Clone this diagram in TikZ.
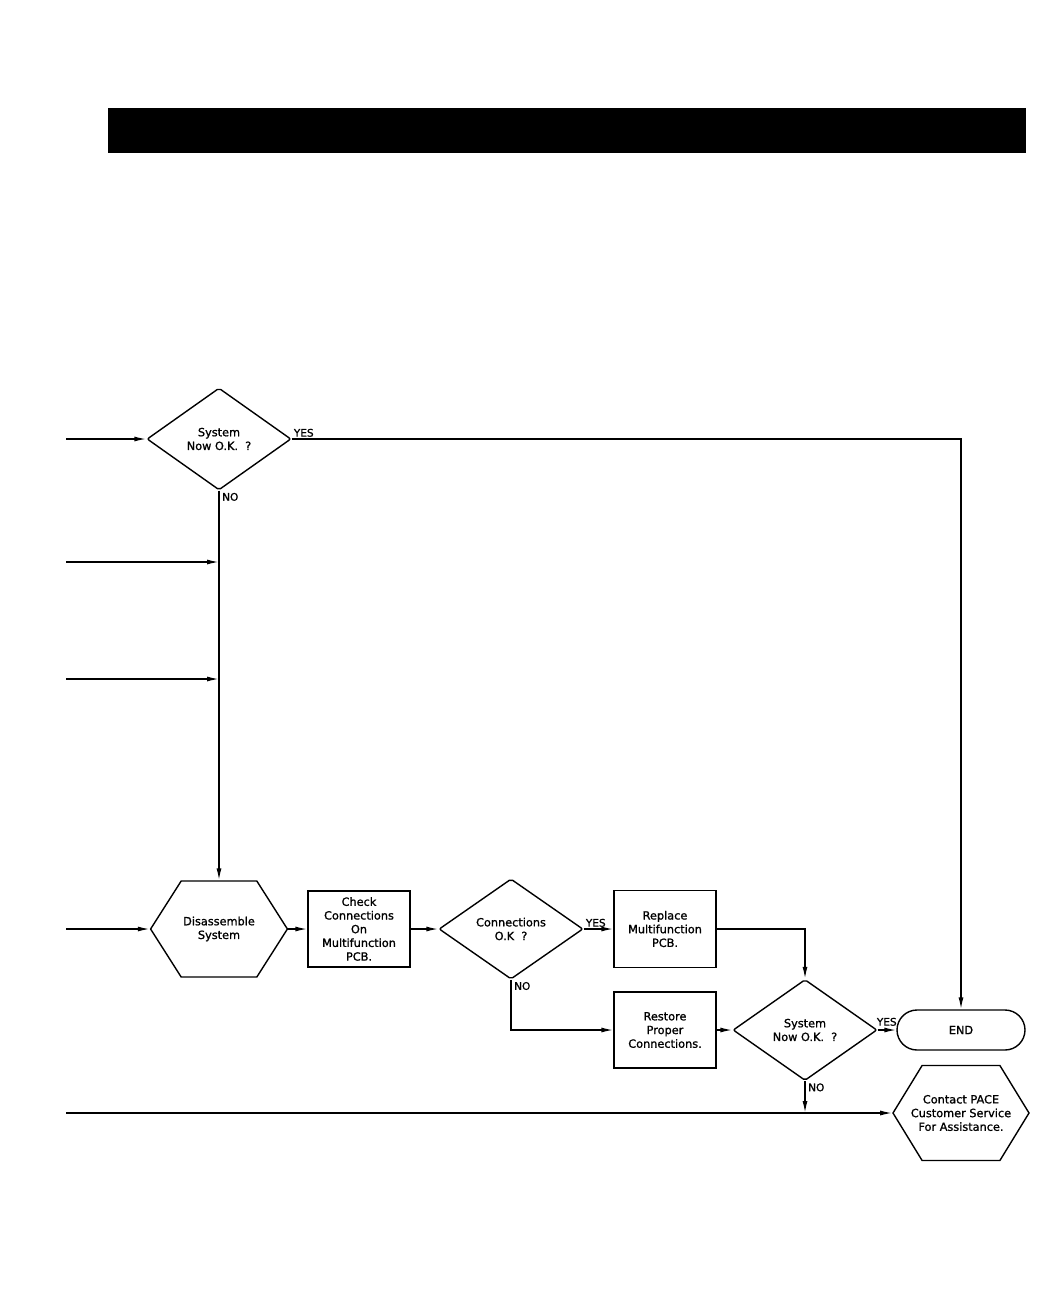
\documentclass[tikz,border=0pt]{standalone}
\usepackage{fontspec}
\setmainfont{DejaVu Sans}[RawFeature={embolden=1.2}]
\usepackage{tikz}
\usetikzlibrary{positioning,arrows.meta,calc,shapes.geometric,shapes.symbols}
\tikzset{
  base/.style={draw,line width=1.4pt,align=center,font=\fontsize{11.3}{13.7}\selectfont,inner sep=2pt},
  dec/.style={base,diamond,minimum width=144pt,minimum height=102pt,rounded corners=2pt},
  proc/.style={base,rectangle,minimum width=102pt,minimum height=76pt},
  hexa/.style={base,signal,signal to=east and west,signal pointer angle=115,minimum width=136pt,minimum height=96pt},
  term/.style={base,rectangle,rounded corners=20pt,minimum width=128pt,minimum height=40pt},
  arr/.style={-{Latex[length=12pt,width=5pt]},line width=1.4pt},
  lbl/.style={font=\fontsize{10.5}{12}\selectfont,inner sep=1pt}}
\begin{document}
\begin{tikzpicture}[x=1pt,y=-1pt]
\useasboundingbox (0,0) rectangle (1062,1296);
% heading bar
\fill (108,108) rectangle (1026,153);
% nodes
\node[dec] (sysA) at (219,439) {System\\Now O.K.~~?};
\node[hexa] (disas) at (219,929) {Disassemble\\System};
\node[proc] (check) at (359,929) {Check\\Connections\\On\\Multifunction\\PCB.};
\node[dec,minimum height=100pt] (conn) at (511,929) {Connections\\O.K~~?};
\node[proc,minimum height=77pt] (repl) at (665,929) {Replace\\Multifunction\\PCB.};
\node[proc] (rest) at (665,1030) {Restore\\Proper\\Connections.};
\node[dec,minimum height=101pt] (sysB) at (805,1030) {System\\Now O.K.~~?};
\node[term] (end) at (961,1030) {END};
\node[hexa,minimum height=95pt,signal pointer angle=117,inner xsep=-16pt] (pace) at (961,1113) {Contact PACE\\Customer Service\\For Assistance.};
% loose ends on the left
\coordinate (inA) at (66,439);
\coordinate (inB) at (66,562);
\coordinate (inC) at (66,679);
\coordinate (inD) at (66,929);
\coordinate (inE) at (66,1113);
% connectors
\draw[arr] (inA) -- (sysA.west);
\draw[arr] (sysA.east) -| (end.north);
\draw[arr] (sysA.south) -- (disas.north);
\draw[arr] (inB) -- (sysA.south |- inB);
\draw[arr] (inC) -- (sysA.south |- inC);
\draw[arr] (inD) -- (disas.west);
\draw[arr] (disas.east) -- (check.west);
\draw[arr] (check.east) -- (conn.west);
\draw[arr] (conn.east) -- (repl.west);
\draw[arr] (repl.east) -| (sysB.north);
\draw[arr] (conn.south) |- (rest.west);
\draw[arr] (rest.east) -- (sysB.west);
\draw[arr] (sysB.east) -- (end.west);
\draw[arr] (sysB.south) -- (sysB.south |- pace.west);
\draw[arr] (inE) -- (pace.west);
% labels
\node[lbl,anchor=south west] at ([xshift=1pt,yshift=1pt]sysA.east) {YES};
\node[lbl,anchor=north west] at ([xshift=2pt,yshift=-1pt]sysA.south) {NO};
\node[lbl,anchor=south west] at ([xshift=1pt,yshift=1pt]conn.east) {YES};
\node[lbl,anchor=north west] at ([xshift=2pt,yshift=-1pt]conn.south) {NO};
\node[lbl,anchor=south west] at ([xshift=-2pt,yshift=3pt]sysB.east) {YES};
\node[lbl,anchor=north west] at ([xshift=2pt,yshift=-1pt]sysB.south) {NO};
\end{tikzpicture}
\end{document}
